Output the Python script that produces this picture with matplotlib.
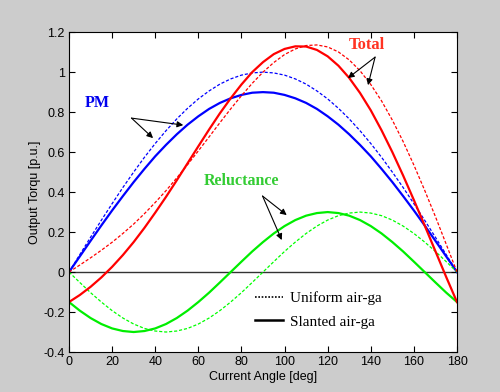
import matplotlib
matplotlib.use('Agg')
import matplotlib.pyplot as plt
from matplotlib.lines import Line2D

# current angle in degrees, 5 deg steps
angle = list(range(0, 185, 5))

# PM torque [p.u.]
pm_uniform = [0, 0.087, 0.174, 0.259, 0.342, 0.423, 0.500, 0.574, 0.643, 0.707,
              0.766, 0.819, 0.866, 0.906, 0.940, 0.966, 0.985, 0.996, 1.000,
              0.996, 0.985, 0.966, 0.940, 0.906, 0.866, 0.819, 0.766, 0.707,
              0.643, 0.574, 0.500, 0.423, 0.342, 0.259, 0.174, 0.087, 0]
pm_slanted = [0, 0.078, 0.156, 0.233, 0.308, 0.380, 0.450, 0.516, 0.579, 0.636,
              0.689, 0.737, 0.779, 0.816, 0.846, 0.869, 0.886, 0.897, 0.900,
              0.897, 0.886, 0.869, 0.846, 0.816, 0.779, 0.737, 0.689, 0.636,
              0.579, 0.516, 0.450, 0.380, 0.308, 0.233, 0.156, 0.078, 0]

# reluctance torque [p.u.]
rel_uniform = [0, -0.052, -0.103, -0.150, -0.193, -0.230, -0.260, -0.282, -0.295, -0.300,
               -0.295, -0.282, -0.260, -0.230, -0.193, -0.150, -0.103, -0.052, 0,
               0.052, 0.103, 0.150, 0.193, 0.230, 0.260, 0.282, 0.295, 0.300,
               0.295, 0.282, 0.260, 0.230, 0.193, 0.150, 0.103, 0.052, 0]
rel_slanted = [-0.150, -0.193, -0.230, -0.260, -0.282, -0.295, -0.300, -0.295, -0.282, -0.260,
               -0.230, -0.193, -0.150, -0.103, -0.052, 0, 0.052, 0.103, 0.150,
               0.193, 0.230, 0.260, 0.282, 0.295, 0.300, 0.295, 0.282, 0.260,
               0.230, 0.193, 0.150, 0.103, 0.052, 0, -0.052, -0.103, -0.150]

# total torque [p.u.]
tot_uniform = [0, 0.035, 0.071, 0.109, 0.149, 0.193, 0.240, 0.292, 0.348, 0.407,
               0.471, 0.537, 0.606, 0.676, 0.747, 0.816, 0.882, 0.944, 1.000,
               1.048, 1.088, 1.116, 1.133, 1.136, 1.126, 1.101, 1.061, 1.007,
               0.938, 0.856, 0.760, 0.653, 0.535, 0.409, 0.277, 0.139, 0]
tot_slanted = [-0.150, -0.115, -0.074, -0.027, 0.026, 0.085, 0.150, 0.221, 0.297, 0.376,
               0.459, 0.544, 0.629, 0.713, 0.794, 0.869, 0.938, 1.000, 1.050,
               1.090, 1.116, 1.129, 1.128, 1.111, 1.079, 1.032, 0.971, 0.896,
               0.809, 0.709, 0.600, 0.483, 0.360, 0.233, 0.104, -0.025, -0.150]

xticks = list(range(0, 200, 20))
yticks = [-0.4, -0.2, 0, 0.2, 0.4, 0.6, 0.8, 1, 1.2]
ytick_labels = ['-0.4', '-0.2', '0', '0.2', '0.4', '0.6', '0.8', '1', '1.2']

sans = 'Liberation Sans'
serif = 'Liberation Serif'
dash = (0, (2.5, 1.5))

fig = plt.figure(figsize=(5, 3.92), dpi=100, facecolor='#cccccc')
ax = fig.add_axes([0.138, 0.102, 0.776, 0.816])

ax.axhline(0, color='#333333', lw=1.0, zorder=1)

ax.plot(angle, pm_uniform, color='#0000ff', lw=0.9, ls=dash)
ax.plot(angle, pm_slanted, color='#0000ff', lw=1.6)
ax.plot(angle, rel_uniform, color='#00ff00', lw=0.9, ls=dash)
ax.plot(angle, rel_slanted, color='#00ee00', lw=1.6)
ax.plot(angle, tot_uniform, color='#ff0000', lw=0.9, ls=dash)
ax.plot(angle, tot_slanted, color='#ff0000', lw=1.6)

ax.set_xlim(0, 180)
ax.set_ylim(-0.4, 1.2)
ax.set_xticks(xticks)
ax.set_xticklabels([str(t) for t in xticks], fontfamily=sans, fontsize=9)
ax.set_yticks(yticks)
ax.set_yticklabels(ytick_labels, fontfamily=sans, fontsize=9)
ax.tick_params(direction='in', length=4, width=0.8, top=True, right=True, pad=3)
for s in ax.spines.values():
    s.set_linewidth(0.8)

ax.set_xlabel('Current Angle [deg]', fontfamily=sans, fontsize=9, labelpad=2)
ax.set_ylabel('Output Torqu [p.u.]', fontfamily=sans, fontsize=9, labelpad=2)

# curve labels with arrows
arrow = dict(arrowstyle='-|>', color='black', lw=0.8, mutation_scale=9, shrinkA=0, shrinkB=0)

ax.text(13, 0.845, 'PM', color='#0000ee', fontfamily=serif, fontweight='bold',
        fontsize=11.5, ha='center', va='center')
ax.annotate('', xy=(53, 0.735), xytext=(29, 0.77), arrowprops=arrow)
ax.annotate('', xy=(39, 0.67), xytext=(29, 0.77), arrowprops=arrow)

ax.text(138, 1.135, 'Total', color='#ff3322', fontfamily=serif, fontweight='bold',
        fontsize=12, ha='center', va='center')
ax.annotate('', xy=(129.4, 0.97), xytext=(142, 1.075), arrowprops=arrow)
ax.annotate('', xy=(138.7, 0.935), xytext=(142, 1.075), arrowprops=arrow)

ax.text(80.2, 0.455, 'Reluctance', color='#33cc33', fontfamily=serif, fontweight='bold',
        fontsize=11.5, ha='center', va='center')
ax.annotate('', xy=(101, 0.285), xytext=(89.8, 0.38), arrowprops=arrow)
ax.annotate('', xy=(98.7, 0.16), xytext=(89.8, 0.38), arrowprops=arrow)

handles = [Line2D([], [], color='black', lw=1.2, ls=(0, (1, 1))),
           Line2D([], [], color='black', lw=1.8)]
ax.legend(handles, ['Uniform air-ga', 'Slanted air-ga'], loc='upper left',
          bbox_to_anchor=(0.479, 0.19), frameon=False, borderpad=0, borderaxespad=0,
          handlelength=1.85, handletextpad=0.45, labelspacing=0.65,
          prop={'family': serif, 'size': 11})

fig.savefig('out.png', dpi=100, facecolor=fig.get_facecolor())
